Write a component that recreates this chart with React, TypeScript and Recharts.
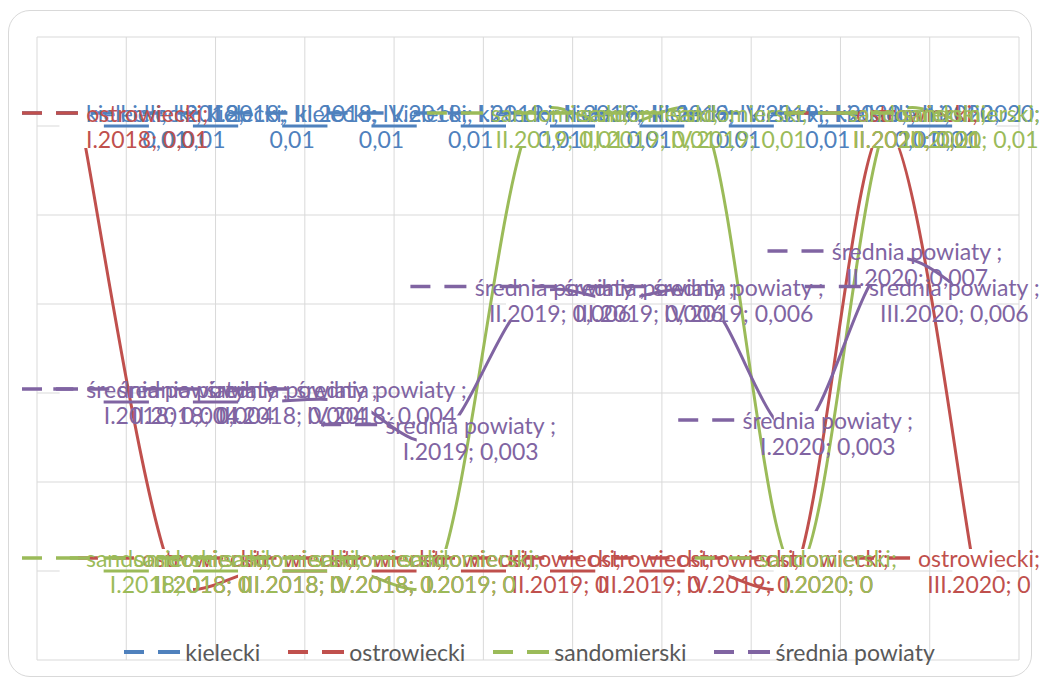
import React from 'react';
import { LineChart, Line, XAxis, YAxis, CartesianGrid, Legend, LabelList } from 'recharts';

const categories = ['I.2018', 'II.2018', 'III.2018', 'IV.2018', 'I.2019', 'II.2019', 'III.2019', 'IV.2019', 'I.2020', 'II.2020', 'III.2020'];
const kielecki = [0.01, 0.01, 0.01, 0.01, 0.01, 0.01, 0.01, 0.01, 0.01, 0.01, 0.01];
const ostrowiecki = [0.01, 0, 0, 0, 0, 0, 0, 0, 0, 0.01, 0];
const sandomierski = [0, 0, 0, 0, 0, 0.01, 0.01, 0.01, 0, 0.01, 0.01];
const srednia = [0.0038, 0.0038, 0.0038, 0.0038, 0.003, 0.0061, 0.0061, 0.0061, 0.0031, 0.0069, 0.0061];
const yTicks = [-0.002, 0, 0.002, 0.004, 0.006, 0.008, 0.01, 0.012];

const series = [
  { key: 'kielecki', name: 'kielecki', label: 'kielecki', color: '#4F81BD', inline: true },
  { key: 'ostrowiecki', name: 'ostrowiecki', label: 'ostrowiecki', color: '#C0504D', inline: false },
  { key: 'sandomierski', name: 'sandomierski', label: 'sandomierski', color: '#9BBB59', inline: false },
  { key: 'srednia', name: 'średnia powiaty', label: 'średnia powiaty ', color: '#8064A2', inline: false },
];

const data = categories.map((cat, i) => ({
  cat,
  kielecki: kielecki[i],
  ostrowiecki: ostrowiecki[i],
  sandomierski: sandomierski[i],
  srednia: srednia[i],
}));

const W = 1039;
const H = 682;
const margin = { top: 37, right: 20, bottom: 22, left: 37 };
const plotW = W - margin.left - margin.right;
const half = plotW / categories.length / 2;
const verticalPoints = Array.from({ length: categories.length + 1 }, (_, i) => margin.left + i * half * 2);

const FONT = 'Lato, "Open Sans", sans-serif';
const FS = 23;
const KEY_W = 56;
const KEY_GAP = 8;
const BOX = 44;

let ctx: CanvasRenderingContext2D | null = null;
const measure = (t: string) => {
  if (!ctx) ctx = document.createElement('canvas').getContext('2d');
  if (!ctx) return t.length * FS * 0.48;
  ctx.font = `${FS}px ${FONT}`;
  return ctx.measureText(t).width;
};

const fmt = (v: number) => String(Number(v.toFixed(3))).replace('.', ',');

// Excel-like smoothing: Catmull-Rom beziers, control arm capped at half the segment
const excelCurve = (context: any) => {
  let pts: number[][] = [];
  const arm = (dx: number, dy: number, seg: number) => {
    const len = Math.hypot(dx, dy);
    const k = len > seg / 2 && len > 0 ? seg / 2 / len : 1;
    return [dx * k, dy * k];
  };
  return {
    areaStart() {},
    areaEnd() {},
    lineStart() { pts = []; },
    point(x: number, y: number) { pts.push([+x, +y]); },
    lineEnd() {
      const n = pts.length;
      if (!n) return;
      context.moveTo(pts[0][0], pts[0][1]);
      for (let i = 0; i < n - 1; i++) {
        const p0 = pts[Math.max(i - 1, 0)];
        const p1 = pts[i];
        const p2 = pts[i + 1];
        const p3 = pts[Math.min(i + 2, n - 1)];
        const seg = Math.hypot(p2[0] - p1[0], p2[1] - p1[1]);
        const a = arm((p2[0] - p0[0]) / 6, (p2[1] - p0[1]) / 6, seg);
        const b = arm((p3[0] - p1[0]) / 6, (p3[1] - p1[1]) / 6, seg);
        context.bezierCurveTo(p1[0] + a[0], p1[1] + a[1], p2[0] - b[0], p2[1] - b[1], p2[0], p2[1]);
      }
    },
  };
};

const renderBox = (props: any) => (
  <rect key={`b-${props.dataKey}-${props.index}`} x={props.cx - BOX / 2} y={props.cy - BOX / 2} width={BOX} height={BOX} fill="#fff" />
);

const makeLabel = (s: typeof series[number]) => (props: any) => {
  const x = props.x ?? props.viewBox?.x;
  const y = props.y ?? props.viewBox?.y;
  const cat = categories[props.index];
  const val = fmt(Number(props.value));
  const l1 = s.inline ? `${s.label}; ${cat};` : `${s.label};`;
  const l2 = s.inline ? val : `${cat}; ${val}`;
  const tw = Math.max(measure(l1), measure(l2));
  const total = KEY_W + KEY_GAP + tw;
  const left = Math.min(Math.max(x - total / 2, 22), 1040 - total);
  const tx = left + KEY_W + KEY_GAP + tw / 2;
  return (
    <g key={`l-${s.key}-${props.index}`}>
      <line x1={left} x2={left + KEY_W} y1={y - 13} y2={y - 13} stroke={s.color} strokeWidth={3.5} strokeDasharray="20 14 22" />
      <text x={tx} y={y - 13} textAnchor="middle" dominantBaseline="central" fill={s.color} fontSize={FS} fontFamily={FONT}>{l1}</text>
      <text x={tx} y={y + 13} textAnchor="middle" dominantBaseline="central" fill={s.color} fontSize={FS} fontFamily={FONT}>{l2}</text>
    </g>
  );
};

const renderLegend = (props: any) => (
  <div style={{ display: 'flex', justifyContent: 'center', gap: 28, fontFamily: FONT, fontSize: FS, color: '#595959', lineHeight: '28px' }}>
    {(props.payload || []).filter((p: any) => p.type !== 'none').map((p: any) => (
      <div key={p.value} style={{ display: 'flex', alignItems: 'center' }}>
        <svg width={KEY_W} height={10} style={{ marginRight: 5 }}>
          <line x1={0} x2={KEY_W} y1={5} y2={5} stroke={p.color} strokeWidth={4} strokeDasharray="20 14 22" />
        </svg>
        <span>{p.value}</span>
      </div>
    ))}
  </div>
);

export default function App() {
  return (
    <div style={{ position: 'absolute', left: 0, top: 0, width: W, height: H, background: '#fff' }}>
      <div style={{ position: 'absolute', left: 8, top: 10, width: 1022, height: 665, border: '1px solid #d9d9d9', borderRadius: 22 }} />
      <div style={{ position: 'absolute', left: 0, top: 0 }}>
        <LineChart width={W} height={H} data={data} margin={margin}>
          <CartesianGrid stroke="#d9d9d9" strokeWidth={1} verticalPoints={verticalPoints} />
          <XAxis dataKey="cat" hide padding={{ left: half, right: half }} />
          <YAxis hide type="number" domain={[-0.002, 0.012]} ticks={yTicks} />
          <Legend layout="horizontal" verticalAlign="middle" align="center" content={renderLegend}
            wrapperStyle={{ top: 638, left: 10, width: W }} />
          {series.map((s) => (
            <Line key={s.key} dataKey={s.key} name={s.name} stroke={s.color} strokeWidth={3} type={excelCurve as any}
              dot={false} activeDot={false} isAnimationActive={false} />
          ))}
          {series.map((s) => (
            <Line key={`box-${s.key}`} dataKey={s.key} stroke="none" legendType="none" dot={renderBox}
              activeDot={false} isAnimationActive={false} />
          ))}
          {series.map((s) => (
            <Line key={`lab-${s.key}`} dataKey={s.key} stroke="none" legendType="none" dot={false}
              activeDot={false} isAnimationActive={false}>
              <LabelList dataKey={s.key} content={makeLabel(s)} />
            </Line>
          ))}
        </LineChart>
      </div>
    </div>
  );
}
